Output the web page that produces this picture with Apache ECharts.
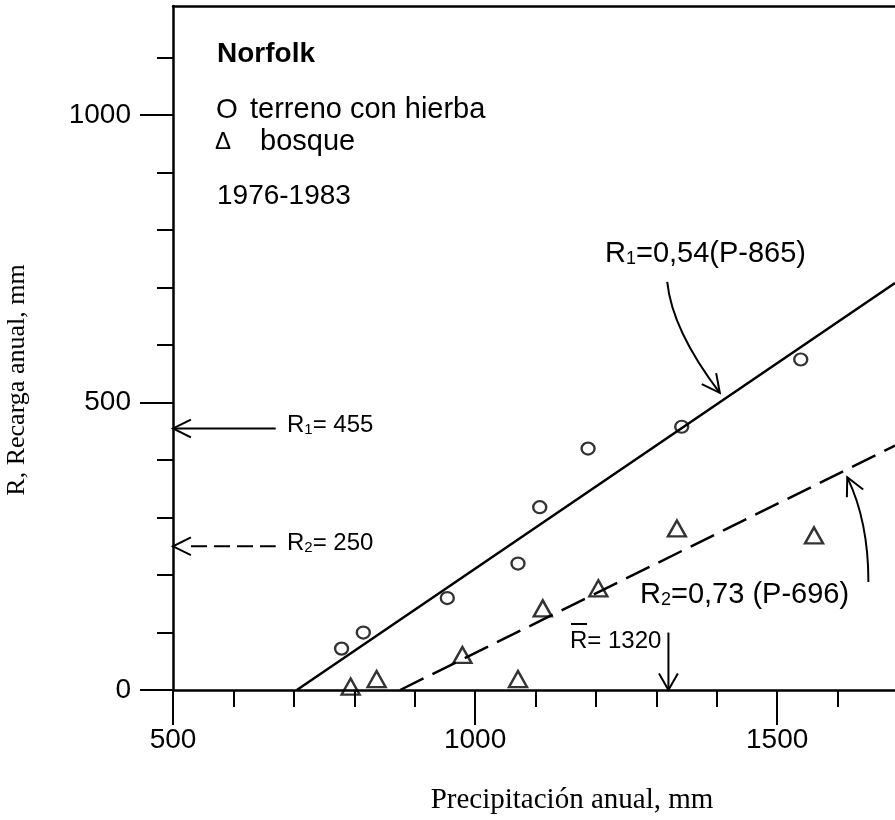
<!DOCTYPE html>
<html>
<head>
<meta charset="utf-8">
<script src="https://cdn.jsdelivr.net/npm/echarts@6/dist/echarts.min.js"></script>
<style>
  html, body { margin: 0; padding: 0; background: #fff; }
  #chart { width: 895px; height: 820px; }
</style>
</head>
<body>
<div id="chart"></div>
<script>
// Annual precipitation (mm) and recharge (mm), Norfolk 1976-1983
const grassPrecip    = [779, 815, 954, 1071, 1107, 1187, 1342, 1539];
const grassRecharge  = [72, 100, 160, 220, 318, 420, 458, 575];
const forestPrecip   = [794, 837, 979, 1071, 1112, 1204, 1334, 1561];
const forestRecharge = [6, 19, 61, 19, 142, 177, 281, 269];

// Fitted recharge lines, as [precipitation, recharge] end points
const grassFit  = [[705, 0], [1695, 708]];
const forestFit = [[876, 0], [1695, 425]];

// Mean annual precipitation and the recharge read at it
const meanPrecip = 1320;
const meanRechargeGrass = 455;
const meanRechargeForest = 250;

// Tick values
const xMajorTicks = [500, 1000, 1500];
const xMinorTicks = [600, 700, 800, 900, 1100, 1200, 1300, 1400, 1600];
const yMajorTicks = [0, 500, 1000];
const yMinorTicks = [100, 200, 300, 400, 600, 700, 800, 900, 1100];

const X_MIN = 500, X_MAX = 1695, Y_MIN = 0, Y_MAX = 1190;

// Callout geometry in data units
const meanArrowTailP = 670;      // right end of the horizontal recharge arrows
const meanArrowTopR = 100;       // top of the vertical mean-precipitation arrow
const callouts = [
  { from: [1318, 710], ctrl: [1326, 626], to: [1405, 517] },
  { from: [1651, 188], ctrl: [1651, 294], to: [1616, 370] }
];

const SANS = '"Liberation Sans", Arial, sans-serif';
const SERIF = '"Liberation Serif", "Times New Roman", serif';

function zip(xs, ys) { return xs.map((x, i) => [x, ys[i]]); }

function arrowHead(tip, dir, len, spread) {
  // dir: unit vector pointing from the tip back along the shaft
  const c = Math.cos(spread), s = Math.sin(spread);
  const a = [tip[0] + len * (dir[0] * c - dir[1] * s), tip[1] + len * (dir[0] * s + dir[1] * c)];
  const b = [tip[0] + len * (dir[0] * c + dir[1] * s), tip[1] + len * (-dir[0] * s + dir[1] * c)];
  return { type: 'polyline', shape: { points: [a, tip, b] },
           style: { stroke: '#000', fill: null, lineWidth: 2 } };
}

function unit(v) { const l = Math.hypot(v[0], v[1]); return [v[0] / l, v[1] / l]; }

function renderCallouts(params, api) {
  const kids = [];
  const line = (p, q, dash) => ({
    type: 'line', shape: { x1: p[0], y1: p[1], x2: q[0], y2: q[1] },
    style: { stroke: '#000', lineWidth: 2, lineDash: dash || null }
  });
  // R1 arrow to the recharge axis (solid)
  const t1 = api.coord([X_MIN, meanRechargeGrass]);
  const e1 = api.coord([meanArrowTailP, meanRechargeGrass]);
  kids.push(line(t1, e1));
  kids.push(arrowHead(t1, [1, 0], 20, 0.46));
  // R2 arrow to the recharge axis (dashed)
  const t2 = api.coord([X_MIN, meanRechargeForest]);
  const e2 = api.coord([meanArrowTailP, meanRechargeForest]);
  kids.push(line([t2[0] + 18, t2[1]], e2, [16, 7]));
  kids.push(arrowHead(t2, [1, 0], 20, 0.46));
  // Mean precipitation arrow onto the P axis
  const t3 = api.coord([meanPrecip, 0]);
  const e3 = api.coord([meanPrecip, meanArrowTopR]);
  kids.push(line(t3, e3));
  kids.push(arrowHead(t3, [0, -1], 19, 0.52));
  // Curved pointers from the equations to their lines
  callouts.forEach(c => {
    const p0 = api.coord(c.from), cp = api.coord(c.ctrl), p2 = api.coord(c.to);
    kids.push({ type: 'bezierCurve',
      shape: { x1: p0[0], y1: p0[1], cpx1: cp[0], cpy1: cp[1], x2: p2[0], y2: p2[1] },
      style: { stroke: '#000', fill: null, lineWidth: 2 } });
    kids.push(arrowHead(p2, unit([cp[0] - p2[0], cp[1] - p2[1]]), 20, 0.47));
  });
  return { type: 'group', children: kids };
}

function txt(text, x, y, size, extra) {
  return Object.assign({
    type: 'text', x: x, y: y, silent: true,
    style: Object.assign({ text: text, fontSize: size, fontFamily: SANS, fill: '#000',
                           align: 'left', verticalAlign: 'middle' }, (extra && extra.style) || {})
  }, (extra && extra.el) || {});
}

const subRich = (size, lh) => ({ s: { fontSize: size, fontFamily: SANS, fill: '#000', verticalAlign: 'bottom', lineHeight: lh } });

const chart = echarts.init(document.getElementById('chart'), null, { renderer: 'canvas' });

const axisBlack = { color: '#000', width: 2.5 };
const tickBlack = { color: '#000', width: 2 };
const plainNumber = v => String(v);

chart.setOption({
  animation: false,
  backgroundColor: '#fff',
  grid: { left: 173, top: 6, width: 722, height: 684, containLabel: false },
  xAxis: [
    { type: 'value', min: X_MIN, max: X_MAX, position: 'bottom',
      axisLine: { show: true, onZero: false, lineStyle: axisBlack },
      axisTick: { show: true, customValues: xMinorTicks, length: 17, lineStyle: tickBlack },
      axisLabel: { show: false }, splitLine: { show: false } },
    { type: 'value', min: X_MIN, max: X_MAX, position: 'bottom',
      axisLine: { show: false, onZero: false },
      axisTick: { show: true, customValues: xMajorTicks, length: 35, lineStyle: tickBlack },
      axisLabel: { show: true, customValues: xMajorTicks, formatter: plainNumber, margin: 36,
                   fontSize: 28, fontFamily: SANS, color: '#000' },
      splitLine: { show: false } },
    { type: 'value', min: X_MIN, max: X_MAX, position: 'top',
      axisLine: { show: true, onZero: false, lineStyle: axisBlack },
      axisTick: { show: false }, axisLabel: { show: false }, splitLine: { show: false } }
  ],
  yAxis: [
    { type: 'value', min: Y_MIN, max: Y_MAX, position: 'left',
      axisLine: { show: true, onZero: false, lineStyle: axisBlack },
      axisTick: { show: true, customValues: yMinorTicks, length: 16, lineStyle: tickBlack },
      axisLabel: { show: false }, splitLine: { show: false } },
    { type: 'value', min: Y_MIN, max: Y_MAX, position: 'left',
      axisLine: { show: false, onZero: false },
      axisTick: { show: true, customValues: yMajorTicks, length: 33, lineStyle: tickBlack },
      axisLabel: { show: true, customValues: yMajorTicks, formatter: plainNumber, margin: 42,
                   fontSize: 28, fontFamily: SANS, color: '#000' },
      splitLine: { show: false } }
  ],
  series: [
    { name: 'terreno con hierba', type: 'scatter', xAxisIndex: 0, yAxisIndex: 0,
      data: zip(grassPrecip, grassRecharge), symbol: 'circle', symbolSize: [13, 12],
      itemStyle: { color: 'rgba(0,0,0,0)', borderColor: '#000', borderWidth: 2.3 }, silent: true, z: 5 },
    { name: 'bosque', type: 'scatter', xAxisIndex: 0, yAxisIndex: 0,
      data: zip(forestPrecip, forestRecharge), symbol: 'triangle', symbolSize: [18, 16],
      itemStyle: { color: 'rgba(0,0,0,0)', borderColor: '#000', borderWidth: 2.4 }, silent: true, z: 5 },
    { type: 'line', xAxisIndex: 0, yAxisIndex: 0, data: grassFit, showSymbol: false, silent: true,
      lineStyle: { color: '#000', width: 2.5 } },
    { type: 'line', xAxisIndex: 0, yAxisIndex: 0, data: forestFit, showSymbol: false, silent: true,
      lineStyle: { color: '#000', width: 2.5, type: [26, 10] } },
    { type: 'custom', xAxisIndex: 0, yAxisIndex: 0, data: [[X_MIN, Y_MIN]], clip: false, silent: true,
      renderItem: renderCallouts, z: 6 }
  ],
  graphic: [
    txt('Norfolk', 217, 54, 28, { style: { fontWeight: 'bold' } }),
    txt('O', 216, 110, 28),
    txt('terreno con hierba', 250, 110, 29),
    txt('\u0394', 215, 142, 24),
    txt('bosque', 260, 142, 29),
    txt('1976-1983', 217, 196, 28),
    txt('R{s|1}=0,54(P-865)', 605, 254, 29, { style: { rich: subRich(18, 14) } }),
    txt('R{s|2}=0,73 (P-696)', 640, 595, 29, { style: { rich: subRich(18, 14) } }),
    txt('R{s|1}= 455', 287, 425, 24, { style: { rich: subRich(15, 12) } }),
    txt('R{s|2}= 250', 287, 543, 24, { style: { rich: subRich(15, 12) } }),
    txt('R= 1320', 570, 641, 24),
    { type: 'line', silent: true, shape: { x1: 571, y1: 624, x2: 587, y2: 624 },
      style: { stroke: '#000', lineWidth: 2 } },
    txt('Precipitación anual, mm', 572, 800, 29, { style: { fontFamily: SERIF, align: 'center' } }),
    txt('R, Recarga anual, mm', 17, 380, 26,
        { style: { fontFamily: SERIF, align: 'center' }, el: { rotation: Math.PI / 2 } })
  ]
});
</script>
</body>
</html>
